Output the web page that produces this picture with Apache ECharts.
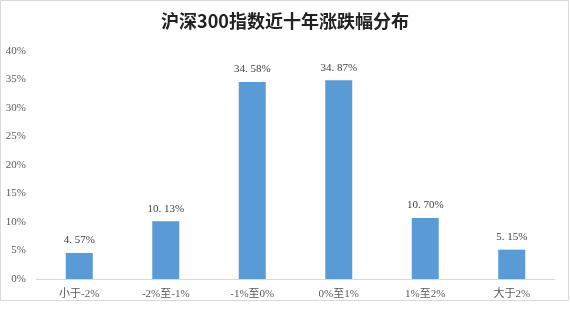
<!DOCTYPE html>
<html><head><meta charset="utf-8">
<script src="https://cdn.jsdelivr.net/npm/echarts@6/dist/echarts.min.js"></script>
<style>html,body{margin:0;padding:0;background:#fff}#c{width:570px;height:311px}</style>
</head><body><div id="c"></div>
<script>
const categories = ['小于-2%', '-2%至-1%', '-1%至0%', '0%至1%', '1%至2%', '大于2%'];
const values = [4.57, 10.13, 34.58, 34.87, 10.70, 5.15];
const title = '沪深300指数近十年涨跌幅分布';
const serif = '"Liberation Serif", "DejaVu Serif", "Noto Sans CJK SC", serif';
const chart = echarts.init(document.getElementById('c'));
chart.setOption({
  animation: false,
  backgroundColor: '#fff',
  title: { text: title, left: 'center', top: 7,
    textStyle: { fontFamily: '"Noto Sans CJK SC", serif', fontSize: 18, fontWeight: 'bold', color: '#222' } },
  graphic: [{ type: 'rect', shape: { x: 0.5, y: 0.5, width: 568, height: 300 },
    style: { fill: 'none', stroke: '#d9d9d9', lineWidth: 1 }, silent: true }],
  grid: { left: 36, right: 15, top: 51, bottom: 32, containLabel: false },
  xAxis: { type: 'category', data: categories,
    axisLine: { lineStyle: { color: '#d9d9d9' } }, axisTick: { show: false },
    axisLabel: { color: '#595959', fontSize: 11, fontFamily: serif, margin: 10 } },
  yAxis: { type: 'value', min: 0, max: 40, interval: 5,
    axisLine: { show: false }, axisTick: { show: false }, splitLine: { show: false },
    axisLabel: { formatter: '{value}%', color: '#595959', fontSize: 11, fontFamily: serif, margin: 10 } },
  series: [{ type: 'bar', data: values, barWidth: 27,
    itemStyle: { color: '#5B9BD5' },
    label: { show: true, position: 'top', distance: 7, color: '#404040', fontSize: 11, fontFamily: serif,
      formatter: p => p.value.toFixed(2).replace('.', '. ') + '%' } }]
});
</script></body></html>
